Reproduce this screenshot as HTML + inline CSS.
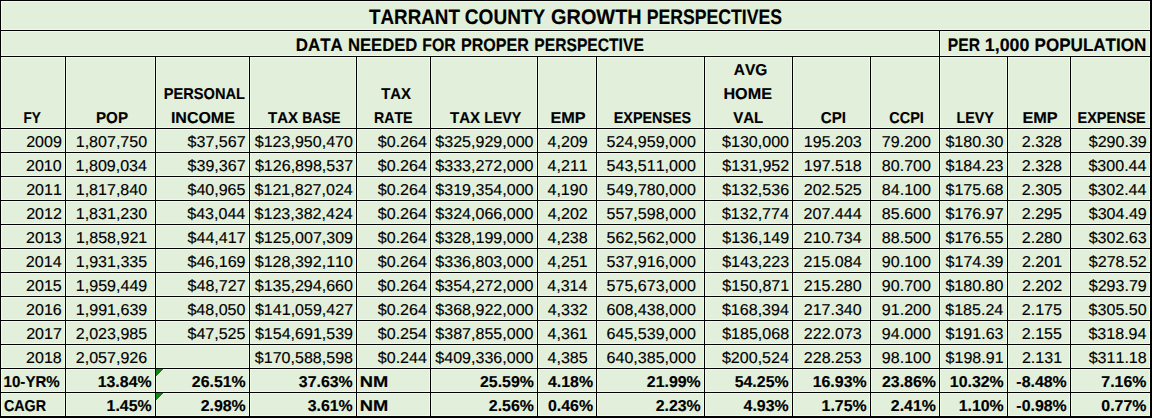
<!DOCTYPE html>
<html><head><meta charset="utf-8"><title>Tarrant County Growth Perspectives</title>
<style>html,body{margin:0;padding:0;background:#E2EFDA;width:1152px;height:418px;overflow:hidden}svg{display:block}</style>
</head><body><svg width="1152" height="418" viewBox="0 0 1152 418"><g shape-rendering="crispEdges"><rect x="0" y="0" width="1152" height="418" fill="#E2EFDA"/><rect x="0" y="-1" width="1152" height="1" fill="#EEFBE7"/><rect x="0" y="1" width="1152" height="1" fill="#EEFBE7"/><rect x="0" y="29" width="1152" height="1" fill="#EEFBE7"/><rect x="0" y="31" width="1152" height="1" fill="#EEFBE7"/><rect x="0" y="55" width="1152" height="1" fill="#EEFBE7"/><rect x="0" y="57" width="1152" height="1" fill="#EEFBE7"/><rect x="0" y="127" width="1152" height="1" fill="#EEFBE7"/><rect x="0" y="129" width="1152" height="1" fill="#EEFBE7"/><rect x="0" y="151" width="1152" height="1" fill="#EEFBE7"/><rect x="0" y="153" width="1152" height="1" fill="#EEFBE7"/><rect x="0" y="175" width="1152" height="1" fill="#EEFBE7"/><rect x="0" y="177" width="1152" height="1" fill="#EEFBE7"/><rect x="0" y="199" width="1152" height="1" fill="#EEFBE7"/><rect x="0" y="201" width="1152" height="1" fill="#EEFBE7"/><rect x="0" y="223" width="1152" height="1" fill="#EEFBE7"/><rect x="0" y="225" width="1152" height="1" fill="#EEFBE7"/><rect x="0" y="247" width="1152" height="1" fill="#EEFBE7"/><rect x="0" y="249" width="1152" height="1" fill="#EEFBE7"/><rect x="0" y="271" width="1152" height="1" fill="#EEFBE7"/><rect x="0" y="273" width="1152" height="1" fill="#EEFBE7"/><rect x="0" y="295" width="1152" height="1" fill="#EEFBE7"/><rect x="0" y="297" width="1152" height="1" fill="#EEFBE7"/><rect x="0" y="319" width="1152" height="1" fill="#EEFBE7"/><rect x="0" y="321" width="1152" height="1" fill="#EEFBE7"/><rect x="0" y="343" width="1152" height="1" fill="#EEFBE7"/><rect x="0" y="345" width="1152" height="1" fill="#EEFBE7"/><rect x="0" y="367" width="1152" height="1" fill="#EEFBE7"/><rect x="0" y="369" width="1152" height="1" fill="#EEFBE7"/><rect x="0" y="391" width="1152" height="1" fill="#EEFBE7"/><rect x="0" y="393" width="1152" height="1" fill="#EEFBE7"/><rect x="0" y="415" width="1152" height="1" fill="#EEFBE7"/><rect x="0" y="418" width="1152" height="1" fill="#EEFBE7"/><rect x="-1" y="0" width="1" height="418" fill="#EEFBE7"/><rect x="1" y="0" width="1" height="418" fill="#EEFBE7"/><rect x="1149" y="0" width="1" height="418" fill="#EEFBE7"/><rect x="1152" y="0" width="1" height="418" fill="#EEFBE7"/><rect x="938" y="30" width="1" height="388" fill="#EEFBE7"/><rect x="940" y="30" width="1" height="388" fill="#EEFBE7"/><rect x="64" y="56" width="1" height="362" fill="#EEFBE7"/><rect x="66" y="56" width="1" height="362" fill="#EEFBE7"/><rect x="154" y="56" width="1" height="362" fill="#EEFBE7"/><rect x="156" y="56" width="1" height="362" fill="#EEFBE7"/><rect x="248" y="56" width="1" height="362" fill="#EEFBE7"/><rect x="250" y="56" width="1" height="362" fill="#EEFBE7"/><rect x="355" y="56" width="1" height="362" fill="#EEFBE7"/><rect x="357" y="56" width="1" height="362" fill="#EEFBE7"/><rect x="429" y="56" width="1" height="362" fill="#EEFBE7"/><rect x="431" y="56" width="1" height="362" fill="#EEFBE7"/><rect x="536" y="56" width="1" height="362" fill="#EEFBE7"/><rect x="538" y="56" width="1" height="362" fill="#EEFBE7"/><rect x="595" y="56" width="1" height="362" fill="#EEFBE7"/><rect x="597" y="56" width="1" height="362" fill="#EEFBE7"/><rect x="703" y="56" width="1" height="362" fill="#EEFBE7"/><rect x="705" y="56" width="1" height="362" fill="#EEFBE7"/><rect x="791" y="56" width="1" height="362" fill="#EEFBE7"/><rect x="793" y="56" width="1" height="362" fill="#EEFBE7"/><rect x="869" y="56" width="1" height="362" fill="#EEFBE7"/><rect x="871" y="56" width="1" height="362" fill="#EEFBE7"/><rect x="1006" y="56" width="1" height="362" fill="#EEFBE7"/><rect x="1008" y="56" width="1" height="362" fill="#EEFBE7"/><rect x="1069" y="56" width="1" height="362" fill="#EEFBE7"/><rect x="1071" y="56" width="1" height="362" fill="#EEFBE7"/><rect x="0" y="0" width="1152" height="1" fill="#000"/><rect x="0" y="30" width="1152" height="1" fill="#000"/><rect x="0" y="56" width="1152" height="1" fill="#000"/><rect x="0" y="128" width="1152" height="1" fill="#000"/><rect x="0" y="152" width="1152" height="1" fill="#000"/><rect x="0" y="176" width="1152" height="1" fill="#000"/><rect x="0" y="200" width="1152" height="1" fill="#000"/><rect x="0" y="224" width="1152" height="1" fill="#000"/><rect x="0" y="248" width="1152" height="1" fill="#000"/><rect x="0" y="272" width="1152" height="1" fill="#000"/><rect x="0" y="296" width="1152" height="1" fill="#000"/><rect x="0" y="320" width="1152" height="1" fill="#000"/><rect x="0" y="344" width="1152" height="1" fill="#000"/><rect x="0" y="368" width="1152" height="1" fill="#000"/><rect x="0" y="392" width="1152" height="1" fill="#000"/><rect x="0" y="416" width="1152" height="2" fill="#000"/><rect x="0" y="0" width="1" height="418" fill="#000"/><rect x="1150" y="0" width="2" height="418" fill="#000"/><rect x="939" y="30" width="1" height="388" fill="#000"/><rect x="65" y="56" width="1" height="362" fill="#000"/><rect x="155" y="56" width="1" height="362" fill="#000"/><rect x="249" y="56" width="1" height="362" fill="#000"/><rect x="356" y="56" width="1" height="362" fill="#000"/><rect x="430" y="56" width="1" height="362" fill="#000"/><rect x="537" y="56" width="1" height="362" fill="#000"/><rect x="596" y="56" width="1" height="362" fill="#000"/><rect x="704" y="56" width="1" height="362" fill="#000"/><rect x="792" y="56" width="1" height="362" fill="#000"/><rect x="870" y="56" width="1" height="362" fill="#000"/><rect x="1007" y="56" width="1" height="362" fill="#000"/><rect x="1070" y="56" width="1" height="362" fill="#000"/><path d="M156 369h7l-7 7z" fill="#0A8A0A"/><path d="M156 393h7l-7 7z" fill="#0A8A0A"/></g><g fill="#000" stroke="#000" stroke-width="0.15" style="font-family:'Liberation Sans',sans-serif;font-kerning:none;text-rendering:geometricPrecision"><text transform="translate(368.99,24) scale(0.8958,1)" font-size="21" font-weight="bold">TARRANT</text><text transform="translate(464.82,24) scale(0.9066,1)" font-size="21" font-weight="bold">COUNTY</text><text transform="translate(551.08,24) scale(0.9467,1)" font-size="21" font-weight="bold">GROWTH</text><text transform="translate(646.72,24) scale(0.8399,1)" font-size="21" font-weight="bold">PERSPECTIVES</text><text transform="translate(295.77,50.7) scale(0.9418,1)" font-size="18" font-weight="bold">DATA</text><text transform="translate(347.88,50.7) scale(0.9267,1)" font-size="18" font-weight="bold">NEEDED</text><text transform="translate(422.24,50.7) scale(0.8786,1)" font-size="18" font-weight="bold">FOR</text><text transform="translate(461.02,50.7) scale(0.8933,1)" font-size="18" font-weight="bold">PROPER</text><text transform="translate(534.35,50.7) scale(0.8685,1)" font-size="18" font-weight="bold">PERSPECTIVE</text><text transform="translate(947.85,50.7) scale(0.8691,1)" font-size="18" font-weight="bold">PER</text><text transform="translate(984.78,50.7) scale(0.9891,1)" font-size="18" font-weight="bold">1,000</text><text transform="translate(1034.56,50.7) scale(0.9474,1)" font-size="18" font-weight="bold">POPULATION</text><text transform="translate(23.49,123) scale(0.8581,1)" font-size="15.8" font-weight="bold">FY</text><text transform="translate(95.99,123) scale(0.9600,1)" font-size="15.8" font-weight="bold">POP</text><text transform="translate(163.82,99) scale(0.9253,1)" font-size="15.8" font-weight="bold">PERSONAL</text><text transform="translate(170.93,123) scale(1.0110,1)" font-size="15.8" font-weight="bold">INCOME</text><text transform="translate(268.03,123) scale(0.9494,1)" font-size="15.8" font-weight="bold">TAX</text><text transform="translate(302.28,123) scale(0.8716,1)" font-size="15.8" font-weight="bold">BASE</text><text transform="translate(381.13,99) scale(0.9430,1)" font-size="15.8" font-weight="bold">TAX</text><text transform="translate(373.95,123) scale(0.8975,1)" font-size="15.8" font-weight="bold">RATE</text><text transform="translate(450.03,123) scale(0.9494,1)" font-size="15.8" font-weight="bold">TAX</text><text transform="translate(484.25,123) scale(0.8960,1)" font-size="15.8" font-weight="bold">LEVY</text><text transform="translate(550.41,123) scale(1.0294,1)" font-size="15.8" font-weight="bold">EMP</text><text transform="translate(613.74,123) scale(0.9089,1)" font-size="15.8" font-weight="bold">EXPENSES</text><text transform="translate(733.81,75) scale(0.9798,1)" font-size="15.8" font-weight="bold">AVG</text><text transform="translate(723.42,99) scale(1.0235,1)" font-size="15.8" font-weight="bold">HOME</text><text transform="translate(733.20,123) scale(0.9482,1)" font-size="15.8" font-weight="bold">VAL</text><text transform="translate(820.78,123) scale(0.9580,1)" font-size="15.8" font-weight="bold">CPI</text><text transform="translate(889.31,123) scale(0.9156,1)" font-size="15.8" font-weight="bold">CCPI</text><text transform="translate(956.55,123) scale(0.9035,1)" font-size="15.8" font-weight="bold">LEVY</text><text transform="translate(1022.41,123) scale(1.0294,1)" font-size="15.8" font-weight="bold">EMP</text><text transform="translate(1077.54,123) scale(0.9127,1)" font-size="15.8" font-weight="bold">EXPENSE</text><text transform="translate(26.16,147) scale(1.0158,1)" font-size="15.8">2009</text><text transform="translate(75.72,147) scale(1.0158,1)" font-size="15.8">1,807,750</text><text transform="translate(187.59,147) scale(1.0158,1)" font-size="15.8">$37,567</text><text transform="translate(254.75,147) scale(1.0158,1)" font-size="15.8">$123,950,470</text><text transform="translate(377.78,147) scale(1.0158,1)" font-size="15.8">$0.264</text><text transform="translate(435.35,147) scale(1.0158,1)" font-size="15.8">$325,929,000</text><text transform="translate(547.60,147) scale(1.0158,1)" font-size="15.8">4,209</text><text transform="translate(606.57,147) scale(1.0158,1)" font-size="15.8">524,959,000</text><text transform="translate(722.08,147) scale(1.0158,1)" font-size="15.8">$130,000</text><text transform="translate(803.79,147) scale(1.0158,1)" font-size="15.8">195.203</text><text transform="translate(881.84,147) scale(1.0158,1)" font-size="15.8">79.200</text><text transform="translate(945.41,147) scale(1.0158,1)" font-size="15.8">$180.30</text><text transform="translate(1021.83,147) scale(1.0158,1)" font-size="15.8">2.328</text><text transform="translate(1088.74,147) scale(1.0158,1)" font-size="15.8">$290.39</text><text transform="translate(26.02,171) scale(1.0158,1)" font-size="15.8">2010</text><text transform="translate(75.57,171) scale(1.0158,1)" font-size="15.8">1,809,034</text><text transform="translate(187.59,171) scale(1.0158,1)" font-size="15.8">$39,367</text><text transform="translate(254.93,171) scale(1.0158,1)" font-size="15.8">$126,898,537</text><text transform="translate(377.78,171) scale(1.0158,1)" font-size="15.8">$0.264</text><text transform="translate(435.35,171) scale(1.0158,1)" font-size="15.8">$333,272,000</text><text transform="translate(547.62,171) scale(1.0158,1)" font-size="15.8">4,211</text><text transform="translate(606.57,171) scale(1.0158,1)" font-size="15.8">543,511,000</text><text transform="translate(722.26,171) scale(1.0158,1)" font-size="15.8">$131,952</text><text transform="translate(803.78,171) scale(1.0158,1)" font-size="15.8">197.518</text><text transform="translate(881.84,171) scale(1.0158,1)" font-size="15.8">80.700</text><text transform="translate(945.49,171) scale(1.0158,1)" font-size="15.8">$184.23</text><text transform="translate(1021.83,171) scale(1.0158,1)" font-size="15.8">2.328</text><text transform="translate(1088.45,171) scale(1.0158,1)" font-size="15.8">$300.44</text><text transform="translate(26.18,195) scale(1.0158,1)" font-size="15.8">2011</text><text transform="translate(75.72,195) scale(1.0158,1)" font-size="15.8">1,817,840</text><text transform="translate(187.46,195) scale(1.0158,1)" font-size="15.8">$40,965</text><text transform="translate(254.59,195) scale(1.0158,1)" font-size="15.8">$121,827,024</text><text transform="translate(377.78,195) scale(1.0158,1)" font-size="15.8">$0.264</text><text transform="translate(435.35,195) scale(1.0158,1)" font-size="15.8">$319,354,000</text><text transform="translate(547.46,195) scale(1.0158,1)" font-size="15.8">4,190</text><text transform="translate(606.57,195) scale(1.0158,1)" font-size="15.8">549,780,000</text><text transform="translate(722.16,195) scale(1.0158,1)" font-size="15.8">$132,536</text><text transform="translate(803.76,195) scale(1.0158,1)" font-size="15.8">202.525</text><text transform="translate(881.84,195) scale(1.0158,1)" font-size="15.8">84.100</text><text transform="translate(945.48,195) scale(1.0158,1)" font-size="15.8">$175.68</text><text transform="translate(1021.81,195) scale(1.0158,1)" font-size="15.8">2.305</text><text transform="translate(1088.45,195) scale(1.0158,1)" font-size="15.8">$302.44</text><text transform="translate(26.20,219) scale(1.0158,1)" font-size="15.8">2012</text><text transform="translate(75.72,219) scale(1.0158,1)" font-size="15.8">1,831,230</text><text transform="translate(187.25,219) scale(1.0158,1)" font-size="15.8">$43,044</text><text transform="translate(254.59,219) scale(1.0158,1)" font-size="15.8">$123,382,424</text><text transform="translate(377.78,219) scale(1.0158,1)" font-size="15.8">$0.264</text><text transform="translate(435.35,219) scale(1.0158,1)" font-size="15.8">$324,066,000</text><text transform="translate(547.64,219) scale(1.0158,1)" font-size="15.8">4,202</text><text transform="translate(606.57,219) scale(1.0158,1)" font-size="15.8">557,598,000</text><text transform="translate(721.93,219) scale(1.0158,1)" font-size="15.8">$132,774</text><text transform="translate(803.55,219) scale(1.0158,1)" font-size="15.8">207.444</text><text transform="translate(881.84,219) scale(1.0158,1)" font-size="15.8">85.600</text><text transform="translate(945.59,219) scale(1.0158,1)" font-size="15.8">$176.97</text><text transform="translate(1021.81,219) scale(1.0158,1)" font-size="15.8">2.295</text><text transform="translate(1088.74,219) scale(1.0158,1)" font-size="15.8">$304.49</text><text transform="translate(26.10,243) scale(1.0158,1)" font-size="15.8">2013</text><text transform="translate(75.88,243) scale(1.0158,1)" font-size="15.8">1,858,921</text><text transform="translate(187.59,243) scale(1.0158,1)" font-size="15.8">$44,417</text><text transform="translate(254.88,243) scale(1.0158,1)" font-size="15.8">$125,007,309</text><text transform="translate(377.78,243) scale(1.0158,1)" font-size="15.8">$0.264</text><text transform="translate(435.35,243) scale(1.0158,1)" font-size="15.8">$328,199,000</text><text transform="translate(547.53,243) scale(1.0158,1)" font-size="15.8">4,238</text><text transform="translate(606.57,243) scale(1.0158,1)" font-size="15.8">562,562,000</text><text transform="translate(722.22,243) scale(1.0158,1)" font-size="15.8">$136,149</text><text transform="translate(803.55,243) scale(1.0158,1)" font-size="15.8">210.734</text><text transform="translate(881.84,243) scale(1.0158,1)" font-size="15.8">88.500</text><text transform="translate(945.46,243) scale(1.0158,1)" font-size="15.8">$176.55</text><text transform="translate(1021.76,243) scale(1.0158,1)" font-size="15.8">2.280</text><text transform="translate(1088.69,243) scale(1.0158,1)" font-size="15.8">$302.63</text><text transform="translate(25.87,267) scale(1.0158,1)" font-size="15.8">2014</text><text transform="translate(75.77,267) scale(1.0158,1)" font-size="15.8">1,931,335</text><text transform="translate(187.54,267) scale(1.0158,1)" font-size="15.8">$46,169</text><text transform="translate(254.75,267) scale(1.0158,1)" font-size="15.8">$128,392,110</text><text transform="translate(377.78,267) scale(1.0158,1)" font-size="15.8">$0.264</text><text transform="translate(435.35,267) scale(1.0158,1)" font-size="15.8">$336,803,000</text><text transform="translate(547.62,267) scale(1.0158,1)" font-size="15.8">4,251</text><text transform="translate(606.57,267) scale(1.0158,1)" font-size="15.8">537,916,000</text><text transform="translate(722.16,267) scale(1.0158,1)" font-size="15.8">$143,223</text><text transform="translate(803.55,267) scale(1.0158,1)" font-size="15.8">215.084</text><text transform="translate(881.84,267) scale(1.0158,1)" font-size="15.8">90.100</text><text transform="translate(945.54,267) scale(1.0158,1)" font-size="15.8">$174.39</text><text transform="translate(1021.92,267) scale(1.0158,1)" font-size="15.8">2.201</text><text transform="translate(1088.79,267) scale(1.0158,1)" font-size="15.8">$278.52</text><text transform="translate(26.07,291) scale(1.0158,1)" font-size="15.8">2015</text><text transform="translate(75.86,291) scale(1.0158,1)" font-size="15.8">1,959,449</text><text transform="translate(187.59,291) scale(1.0158,1)" font-size="15.8">$48,727</text><text transform="translate(254.75,291) scale(1.0158,1)" font-size="15.8">$135,294,660</text><text transform="translate(377.78,291) scale(1.0158,1)" font-size="15.8">$0.264</text><text transform="translate(435.35,291) scale(1.0158,1)" font-size="15.8">$354,272,000</text><text transform="translate(547.31,291) scale(1.0158,1)" font-size="15.8">4,314</text><text transform="translate(606.57,291) scale(1.0158,1)" font-size="15.8">575,673,000</text><text transform="translate(722.24,291) scale(1.0158,1)" font-size="15.8">$150,871</text><text transform="translate(803.71,291) scale(1.0158,1)" font-size="15.8">215.280</text><text transform="translate(881.84,291) scale(1.0158,1)" font-size="15.8">90.700</text><text transform="translate(945.41,291) scale(1.0158,1)" font-size="15.8">$180.80</text><text transform="translate(1021.94,291) scale(1.0158,1)" font-size="15.8">2.202</text><text transform="translate(1088.74,291) scale(1.0158,1)" font-size="15.8">$293.79</text><text transform="translate(26.10,315) scale(1.0158,1)" font-size="15.8">2016</text><text transform="translate(75.86,315) scale(1.0158,1)" font-size="15.8">1,991,639</text><text transform="translate(187.41,315) scale(1.0158,1)" font-size="15.8">$48,050</text><text transform="translate(254.93,315) scale(1.0158,1)" font-size="15.8">$141,059,427</text><text transform="translate(377.78,315) scale(1.0158,1)" font-size="15.8">$0.264</text><text transform="translate(435.35,315) scale(1.0158,1)" font-size="15.8">$368,922,000</text><text transform="translate(547.64,315) scale(1.0158,1)" font-size="15.8">4,332</text><text transform="translate(606.57,315) scale(1.0158,1)" font-size="15.8">608,438,000</text><text transform="translate(721.93,315) scale(1.0158,1)" font-size="15.8">$168,394</text><text transform="translate(803.71,315) scale(1.0158,1)" font-size="15.8">217.340</text><text transform="translate(881.84,315) scale(1.0158,1)" font-size="15.8">91.200</text><text transform="translate(945.25,315) scale(1.0158,1)" font-size="15.8">$185.24</text><text transform="translate(1021.81,315) scale(1.0158,1)" font-size="15.8">2.175</text><text transform="translate(1088.61,315) scale(1.0158,1)" font-size="15.8">$305.50</text><text transform="translate(26.20,339) scale(1.0158,1)" font-size="15.8">2017</text><text transform="translate(75.77,339) scale(1.0158,1)" font-size="15.8">2,023,985</text><text transform="translate(187.46,339) scale(1.0158,1)" font-size="15.8">$47,525</text><text transform="translate(254.88,339) scale(1.0158,1)" font-size="15.8">$154,691,539</text><text transform="translate(377.78,339) scale(1.0158,1)" font-size="15.8">$0.254</text><text transform="translate(435.35,339) scale(1.0158,1)" font-size="15.8">$387,855,000</text><text transform="translate(547.62,339) scale(1.0158,1)" font-size="15.8">4,361</text><text transform="translate(606.57,339) scale(1.0158,1)" font-size="15.8">645,539,000</text><text transform="translate(722.15,339) scale(1.0158,1)" font-size="15.8">$185,068</text><text transform="translate(803.79,339) scale(1.0158,1)" font-size="15.8">222.073</text><text transform="translate(881.84,339) scale(1.0158,1)" font-size="15.8">94.000</text><text transform="translate(945.49,339) scale(1.0158,1)" font-size="15.8">$191.63</text><text transform="translate(1021.81,339) scale(1.0158,1)" font-size="15.8">2.155</text><text transform="translate(1088.45,339) scale(1.0158,1)" font-size="15.8">$318.94</text><text transform="translate(26.09,363) scale(1.0158,1)" font-size="15.8">2018</text><text transform="translate(75.80,363) scale(1.0158,1)" font-size="15.8">2,057,926</text><text transform="translate(254.82,363) scale(1.0158,1)" font-size="15.8">$170,588,598</text><text transform="translate(377.78,363) scale(1.0158,1)" font-size="15.8">$0.244</text><text transform="translate(435.35,363) scale(1.0158,1)" font-size="15.8">$409,336,000</text><text transform="translate(547.51,363) scale(1.0158,1)" font-size="15.8">4,385</text><text transform="translate(606.57,363) scale(1.0158,1)" font-size="15.8">640,385,000</text><text transform="translate(721.93,363) scale(1.0158,1)" font-size="15.8">$200,524</text><text transform="translate(803.79,363) scale(1.0158,1)" font-size="15.8">228.253</text><text transform="translate(881.84,363) scale(1.0158,1)" font-size="15.8">98.100</text><text transform="translate(945.57,363) scale(1.0158,1)" font-size="15.8">$198.91</text><text transform="translate(1021.92,363) scale(1.0158,1)" font-size="15.8">2.131</text><text transform="translate(1088.68,363) scale(1.0158,1)" font-size="15.8">$311.18</text><text transform="translate(3.55,387) scale(0.9561,1)" font-size="15.8" font-weight="bold">10-YR%</text><text transform="translate(97.69,387) scale(1.0063,1)" font-size="15.8" font-weight="bold">13.84%</text><text transform="translate(191.79,387) scale(1.0063,1)" font-size="15.8" font-weight="bold">26.51%</text><text transform="translate(298.79,387) scale(1.0063,1)" font-size="15.8" font-weight="bold">37.63%</text><text transform="translate(359.68,387) scale(1.1577,1)" font-size="15.8" font-weight="bold">NM</text><text transform="translate(479.99,387) scale(1.0063,1)" font-size="15.8" font-weight="bold">25.59%</text><text transform="translate(547.94,387) scale(1.0063,1)" font-size="15.8" font-weight="bold">4.18%</text><text transform="translate(646.79,387) scale(1.0063,1)" font-size="15.8" font-weight="bold">21.99%</text><text transform="translate(734.69,387) scale(1.0063,1)" font-size="15.8" font-weight="bold">54.25%</text><text transform="translate(812.69,387) scale(1.0063,1)" font-size="15.8" font-weight="bold">16.93%</text><text transform="translate(881.99,387) scale(1.0063,1)" font-size="15.8" font-weight="bold">23.86%</text><text transform="translate(949.79,387) scale(1.0063,1)" font-size="15.8" font-weight="bold">10.32%</text><text transform="translate(1016.34,387) scale(1.0063,1)" font-size="15.8" font-weight="bold">-8.48%</text><text transform="translate(1101.34,387) scale(1.0063,1)" font-size="15.8" font-weight="bold">7.16%</text><text transform="translate(3.91,411) scale(0.9067,1)" font-size="15.8" font-weight="bold">CAGR</text><text transform="translate(106.54,411) scale(1.0063,1)" font-size="15.8" font-weight="bold">1.45%</text><text transform="translate(200.64,411) scale(1.0063,1)" font-size="15.8" font-weight="bold">2.98%</text><text transform="translate(307.64,411) scale(1.0063,1)" font-size="15.8" font-weight="bold">3.61%</text><text transform="translate(359.68,411) scale(1.1577,1)" font-size="15.8" font-weight="bold">NM</text><text transform="translate(488.84,411) scale(1.0063,1)" font-size="15.8" font-weight="bold">2.56%</text><text transform="translate(547.94,411) scale(1.0063,1)" font-size="15.8" font-weight="bold">0.46%</text><text transform="translate(655.64,411) scale(1.0063,1)" font-size="15.8" font-weight="bold">2.23%</text><text transform="translate(743.54,411) scale(1.0063,1)" font-size="15.8" font-weight="bold">4.93%</text><text transform="translate(821.54,411) scale(1.0063,1)" font-size="15.8" font-weight="bold">1.75%</text><text transform="translate(890.84,411) scale(1.0063,1)" font-size="15.8" font-weight="bold">2.41%</text><text transform="translate(958.64,411) scale(1.0063,1)" font-size="15.8" font-weight="bold">1.10%</text><text transform="translate(1016.34,411) scale(1.0063,1)" font-size="15.8" font-weight="bold">-0.98%</text><text transform="translate(1101.34,411) scale(1.0063,1)" font-size="15.8" font-weight="bold">0.77%</text></g></svg></body></html>
